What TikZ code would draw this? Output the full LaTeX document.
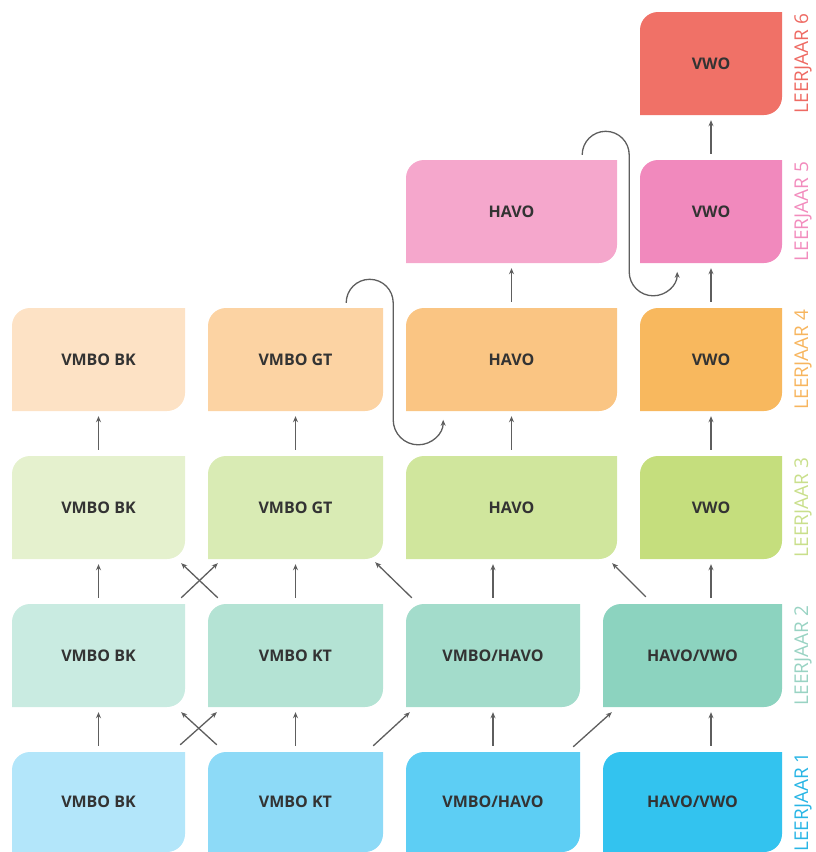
\documentclass[tikz,border=0pt]{standalone}
\usepackage{fontspec}
\setmainfont{Open Sans}
\usepackage{tikz}
\usetikzlibrary{arrows.meta,positioning,calc}
\usepackage{xcolor}

\definecolor{boxtext}{HTML}{333333}
\definecolor{arrowgray}{HTML}{5E5E5E}
\definecolor{r1c1}{HTML}{B3E6FA}
\definecolor{r1c2}{HTML}{8DDAF7}
\definecolor{r1c3}{HTML}{5DCEF4}
\definecolor{r1c4}{HTML}{33C3EF}
\definecolor{r2c1}{HTML}{C9EBE1}
\definecolor{r2c2}{HTML}{B4E3D4}
\definecolor{r2c3}{HTML}{A3DCCB}
\definecolor{r2c4}{HTML}{8CD3BF}
\definecolor{r3c1}{HTML}{E5F1CE}
\definecolor{r3c2}{HTML}{D9EBB4}
\definecolor{r3c3}{HTML}{D0E69D}
\definecolor{r3c4}{HTML}{C5DE7D}
\definecolor{r4c1}{HTML}{FDE2C5}
\definecolor{r4c2}{HTML}{FCD3A3}
\definecolor{r4c3}{HTML}{FAC583}
\definecolor{r4c4}{HTML}{F8B85E}
\definecolor{r5c3}{HTML}{F5A7CC}
\definecolor{r5c4}{HTML}{F189BD}
\definecolor{r6c4}{HTML}{F07167}
\definecolor{lj1}{HTML}{28B5E5}
\definecolor{lj2}{HTML}{99D3C3}
\definecolor{lj3}{HTML}{C9DF8B}
\definecolor{lj4}{HTML}{F7B55E}
\definecolor{lj5}{HTML}{F28CBD}
\definecolor{lj6}{HTML}{EE6A63}

\tikzset{
  tile/.style={rectangle,inner sep=0pt,minimum height=103pt,text=boxtext,
    font=\fontsize{16}{18}\selectfont\bfseries,
    path picture={\fill[#1] (path picture bounding box.south west)
      -- ([yshift=-18pt]path picture bounding box.north west)
      arc[start angle=180,end angle=90,radius=18pt]
      -- (path picture bounding box.north east)
      -- ([yshift=18pt]path picture bounding box.south east)
      arc[start angle=0,end angle=-90,radius=18pt] -- cycle;}},
  arr/.style={-{Stealth[length=6pt,width=5pt]},line width=1.3pt,draw=arrowgray},
  rise/.style={arr,shorten <=6pt,shorten >=5pt},
  year/.style={rotate=90,font=\fontsize{19}{20}\selectfont}
}

\begin{document}
\begin{tikzpicture}[x=1pt,y=-1pt]
  \useasboundingbox (0,0) rectangle (815,852);
  % leerjaar 6
  \node[tile=r6c4,minimum width=142pt] (b64) at (711,63.5) {VWO};
  % leerjaar 5
  \node[tile=r5c3,minimum width=211pt] (b53) at (511.5,211.5) {HAVO};
  \node[tile=r5c4,minimum width=142pt] (b54) at (711,211.5) {VWO};
  % leerjaar 4
  \node[tile=r4c1,minimum width=173pt] (b41) at (98.5,359.5) {VMBO BK};
  \node[tile=r4c2,minimum width=175pt] (b42) at (295.5,359.5) {VMBO GT};
  \node[tile=r4c3,minimum width=211pt] (b43) at (511.5,359.5) {HAVO};
  \node[tile=r4c4,minimum width=142pt] (b44) at (711,359.5) {VWO};
  % leerjaar 3
  \node[tile=r3c1,minimum width=173pt] (b31) at (98.5,507.5) {VMBO BK};
  \node[tile=r3c2,minimum width=175pt] (b32) at (295.5,507.5) {VMBO GT};
  \node[tile=r3c3,minimum width=211pt] (b33) at (511.5,507.5) {HAVO};
  \node[tile=r3c4,minimum width=142pt] (b34) at (711,507.5) {VWO};
  % leerjaar 2
  \node[tile=r2c1,minimum width=173pt] (b21) at (98.5,655.5) {VMBO BK};
  \node[tile=r2c2,minimum width=175pt] (b22) at (295.5,655.5) {VMBO KT};
  \node[tile=r2c3,minimum width=174pt] (b23) at (493,655.5) {VMBO/HAVO};
  \node[tile=r2c4,minimum width=179pt] (b24) at (692.5,655.5) {HAVO/VWO};
  % leerjaar 1
  \node[tile=r1c1,minimum width=173pt,minimum height=100pt] (b11) at (98.5,802) {VMBO BK};
  \node[tile=r1c2,minimum width=175pt,minimum height=100pt] (b12) at (295.5,802) {VMBO KT};
  \node[tile=r1c3,minimum width=174pt,minimum height=100pt] (b13) at (493,802) {VMBO/HAVO};
  \node[tile=r1c4,minimum width=179pt,minimum height=100pt] (b14) at (692.5,802) {HAVO/VWO};

  % year labels
  \node[year,text=lj6] (l6) at (803,63.5) {LEERJAAR 6};
  \node[year,text=lj5] (l5) at (803,211.5) {LEERJAAR 5};
  \node[year,text=lj4] (l4) at (803,359.5) {LEERJAAR 4};
  \node[year,text=lj3] (l3) at (803,507.5) {LEERJAAR 3};
  \node[year,text=lj2] (l2) at (803,655.5) {LEERJAAR 2};
  \node[year,text=lj1] (l1) at (803,802) {LEERJAAR 1};

  % straight up
  \draw[rise] (b11) -- (b21);
  \draw[rise] (b21) -- (b31);
  \draw[rise] (b31) -- (b41);
  \draw[rise] (b12) -- (b22);
  \draw[rise] (b22) -- (b32);
  \draw[rise] (b32) -- (b42);
  \draw[rise] (b13) -- (b23);
  \draw[rise] (b23.north) -- (b23.north |- b33.south);
  \draw[rise] (b33) -- (b43);
  \draw[rise] (b43) -- (b53);
  \draw[rise] (b14.north -| b34) -- (b24.south -| b34);
  \draw[rise] (b24.north -| b34) -- (b34.south);
  \draw[rise] (b34) -- (b44);
  \draw[rise] (b44) -- (b54);
  \draw[rise] (b54) -- (b64);

  % diagonals
  \draw[arr] ([shift={(-5,-7)}]b11.north east) -- ([shift={(9,5)}]b22.south west);
  \draw[arr] ([shift={(9,-7)}]b12.north west) -- ([shift={(-4,5)}]b21.south east);
  \draw[arr] ([shift={(-10,-6)}]b12.north east) -- ([shift={(4,5)}]b23.south west);
  \draw[arr] ([shift={(-7,-5)}]b13.north east) -- ([shift={(9,5)}]b24.south west);
  \draw[arr] ([shift={(-4,-6)}]b21.north east) -- ([shift={(10,4)}]b32.south west);
  \draw[arr] ([shift={(10,-6)}]b22.north west) -- ([shift={(-4,4)}]b31.south east);
  \draw[arr] ([shift={(6,-6)}]b23.north west) -- ([shift={(-8,3)}]b32.south east);
  \draw[arr] ([shift={(43,-7)}]b24.north west) -- ([shift={(-5,4)}]b33.south east);

  % switching loops
  \draw[arr] ([shift={(-37,-5)}]b42.north east) arc[start angle=180,end angle=0,radius=23.5pt]
    -- ++(0,117) arc[start angle=180,end angle=360,radius=25pt];
  \draw[arr] ([shift={(-35,-5)}]b53.north east) arc[start angle=180,end angle=0,radius=23.5pt]
    -- ++(0,117) arc[start angle=180,end angle=360,radius=24pt];
\end{tikzpicture}
\end{document}
